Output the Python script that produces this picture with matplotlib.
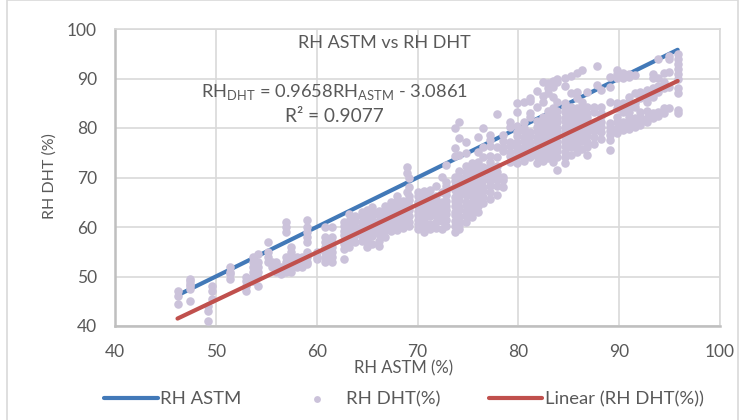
import matplotlib
matplotlib.use("Agg")
import matplotlib.pyplot as plt
from matplotlib.patches import Rectangle

plt.rcParams['font.family'] = ['Lato', 'DejaVu Sans']
plt.rcParams['mathtext.fontset'] = 'custom'
plt.rcParams['mathtext.rm'] = 'Lato'

# RH ASTM reading -> the RH DHT readings at that reading
astm_46 = [(46.2, [44.5, 46, 47]), (47.4, [45, 47.5, 48, 48.5, 49, 49.5]), (49.2, [41, 43, 44]),
           (49.6, [45.5, 47, 48]), (51.4, [49.5, 50.5, 51, 52]), (53.0, [47, 48, 49, 50]),
           (53.7, [49, 50, 51, 52, 53, 54]), (54.2, [48, 50, 51, 52, 53, 54.5]),
           (55.2, [53, 54, 55, 57]), (55.6, [52, 53]), (56.0, [51, 52, 53]), (56.5, [50.5, 51.5, 52]),
           (57.0, [51, 52, 53, 54, 59, 60, 61]), (57.5, [51, 52, 53, 54, 55, 56]), (58.0, [52, 53, 54]),
           (58.5, [52, 53, 54]), (59.0, [52.5, 53, 54, 55, 57, 58, 59, 60, 61.5]), (60.0, [53.5, 54, 55]),
           (60.8, [53, 54, 55, 56, 57, 58, 60]), (61.5, [53, 54, 55, 56, 57, 58, 60])]
astm_62 = [(62.7, [53.5, 55.5, 56.5, 57.2, 58.4, 59.1, 60.3, 61]), (63.2, [56, 57.4, 58.2, 59.3, 60.5, 61.2, 62.6]),
           (63.8, [57, 58.3, 59.4, 60.1, 61.3, 62.2]), (64.5, [57.2, 58.1, 59.5, 60.4, 61.1, 62.3, 63]),
           (65.0, [56, 57.3, 58.4, 59.2, 60.6, 61.4, 62.1, 63.4]), (65.5, [56.6, 58.2, 59.1, 60.2, 61.5, 62.4, 63.2, 64]),
           (66.2, [56.2, 57.1, 58.5, 59.4, 60.3, 61.2, 62.5, 63.3]), (66.8, [58, 59.3, 60.2, 61.4, 62.1, 63.2, 64.2]),
           (67.4, [59.2, 60.4, 61.1, 62.3, 63.1, 64.4, 65]), (68.0, [59.4, 60.3, 61.5, 62.2, 63.4, 64.1, 65.2, 66.2]),
           (68.6, [59.8, 61.2, 62.4, 63.3, 64.5, 65.3]), (69.2, [60.2, 61.1, 62.3, 63.5, 64.2, 65.4, 66.3, 68, 70]),
           (69.0, [67, 71, 72.2]), (70.0, [59.6, 60.6, 61.4, 62.5, 63.2, 64.3, 65.1, 66.2, 67])]
astm_70 = [(70.6, [59, 60.2, 61.5, 62.2, 63.4, 64.1, 65.3, 66.4, 67.2]), (71.2, [59.5, 60.7, 62.2, 63.1, 64.4, 65.2, 66.1, 67.4]),
           (71.8, [59.8, 61.1, 62.4, 63.2, 64.3, 65.5, 66.2, 68.2]), (72.4, [59.5, 61.2, 62.1, 63.3, 64.5, 65.1, 67, 70.2]),
           (72.8, [60.2, 61.4, 62.6, 63.5, 64.2, 65.3, 66.4, 67.2, 68.3, 69.1, 72.5]), (73.7, [59, 60.3, 61.2, 62.4, 63.1, 64.3, 65.2, 66.1, 67.4, 68.2, 69.3, 70.1, 74.4, 76, 80]),
           (74.1, [59.5, 60.4, 61.3, 62.2, 63.4, 64.1, 65.4, 66.3, 67.2, 68.1, 69.4, 70.2, 71.3, 74.5, 78, 81.2]),
           (74.8, [61, 62.3, 63.2, 64.4, 65.1, 66.4, 67.3, 68.2, 69.1, 70.3, 71.2, 72.4, 75, 77.2]),
           (75.4, [62, 63.3, 64.2, 65.1, 66.3, 67.2, 68.4, 69.3, 70.1, 71.4, 72.2, 73]),
           (76.0, [63, 64.3, 65.2, 66.1, 67.4, 68.3, 69.2, 70.4, 71.1, 72.3, 73.2, 75.2, 78.2]),
           (76.5, [64.8, 66, 67.2, 68.1, 69.4, 70.2, 71.3, 72.1, 74.2, 76.1, 80]),
           (77.2, [65.6, 67.1, 68.3, 69.2, 70.4, 71.2, 72.3, 73.1, 74.4, 76.3, 77.5, 78.5]),
           (77.9, [66.5, 68.2, 69.4, 70.3, 71.1, 72.4, 74.2, 76.2, 82.8]), (78.5, [68, 69.5, 70.2, 75.3, 76.2, 77.4, 78.6])]
astm_79 = [(79.2, [73.2, 74.4, 75.1, 76.3, 77.2, 80.2, 81.3]), (79.9, [73, 74.2, 75.3, 76.4, 77.1, 78.3, 79.2, 80.4, 83.2, 85]),
           (80.6, [73.3, 74.1, 75.4, 76.2, 77.3, 78.2, 79.4, 80.1, 81.2, 85.2]), (81.2, [74.2, 75.1, 76.4, 77.2, 78.3, 79.1, 82.3, 83.1, 85.4, 86]),
           (81.9, [73, 74.3, 75.2, 76.1, 77.4, 78.2, 79.3, 80.2, 81.4, 84.3, 87.5]), (82.4, [73.4, 74.1, 75.3, 76.2, 77.1, 78.4, 79.2, 80.3, 81.1, 82.2, 85.2, 86.4, 89.3]),
           (82.9, [74, 75.2, 76.3, 77.2, 78.1, 79.4, 80.2, 81.3, 82.1, 83.4, 87, 88, 89]),
           (83.4, [73.2, 74.4, 75.1, 76.4, 77.3, 78.2, 79.1, 80.4, 81.2, 82.3, 83.2, 84.1, 86.2, 88.3, 89.5]),
           (83.8, [71.5, 74.1, 75.3, 76.2, 77.1, 78.3, 79.4, 80.1, 81.3, 82.2, 83.4, 85.2, 89.2, 90]),
           (84.6, [73, 74.2, 75.1, 76.3, 77.4, 78.2, 79.1, 80.3, 81.4, 82.1, 83.3, 84.2, 85.1, 88.5, 90.2]),
           (85.2, [74.6, 76.1, 77.2, 78.4, 79.3, 80.1, 81.2, 82.4, 83.1, 84.3, 87.1, 90.6]),
           (85.8, [75.2, 76.3, 77.1, 78.2, 79.4, 80.3, 81.1, 82.2, 83.4, 84.1, 86, 87.3, 91.2]),
           (86.3, [75.8, 77.3, 78.1, 79.2, 80.4, 81.3, 82.1, 83.2, 84.4, 85.3, 91.7]),
           (86.8, [74.5, 76.1, 77.2, 78.3, 79.1, 80.2, 81.4, 82.3, 83.1, 84.2, 87.2]),
           (87.5, [76.8, 78.1, 79.3, 80.2, 81.1, 83.2, 84.3])]
astm_88 = [(87.8, [88.7, 92.5]), (88.2, [77.8, 79.1, 80.3, 81.2, 82.4, 83.1, 84.2, 87.7]), (89.1, [75.6, 77.5, 78.6, 79.4, 80.2, 81.1, 85.2, 88.2, 90.3]),
           (89.8, [79, 80.1, 81.3, 82.2, 84.1, 85, 90.2, 91, 91.7]), (90.4, [79.6, 80.4, 81.2, 83.3, 84.2, 85.1, 90.1, 91.2]),
           (91.0, [79.8, 81.1, 82.3, 83.2, 84.4, 85.3, 86.2, 90.4, 91]), (91.6, [80.3, 81.2, 82.1, 84.2, 85.1, 87, 90.7]),
           (92.1, [80.6, 81.4, 82.2, 83.3, 86.1, 87.3]), (92.8, [81.3, 82.1, 83.4, 85.2, 86.4, 87.6]),
           (93.4, [82, 83, 86.3, 88, 90.2, 91]), (93.9, [82.4, 83.2, 87.2, 88.4, 90.1, 94]),
           (94.4, [83, 84.1, 88.1, 89.2, 91.1]), (94.9, [84, 88.2, 91.3, 94, 94.6]),
           (95.8, [83, 83.7, 87, 88, 90, 91, 92, 93, 94, 95])]

line_x = [46.2, 95.8]
line_y = [46.2, 95.8]
trend_x = [46.2, 95.8]
trend_y = [41.5, 89.5]

x_ticks = [40, 50, 60, 70, 80, 90, 100]
y_ticks = [40, 50, 60, 70, 80, 90, 100]

rh_astm = []
rh_dht = []
for group in (astm_46, astm_62, astm_70, astm_79, astm_88):
    for astm, readings in group:
        for dht in readings:
            rh_astm.append(astm)
            rh_dht.append(dht)

TEXT = '#595959'

fig = plt.figure(figsize=(7.46, 4.2), dpi=100)
ax = fig.add_axes([115/746, 1-326/420, 605/746, 297/420])
fig.add_artist(Rectangle((7/746, -0.02), 731/746, 1.02, transform=fig.transFigure,
                         fill=False, edgecolor='#d9d9d9', linewidth=1.2))

ax.plot(line_x, line_y, color='#4279b8', linewidth=3, label='RH ASTM', zorder=3, solid_capstyle='round')
ax.scatter(rh_astm, rh_dht, s=38, color='#cbc2da', label='RH DHT(%)', zorder=4, linewidths=0)
ax.plot(trend_x, trend_y, color='#c0504d', linewidth=3, label='Linear (RH DHT(%))', zorder=5, solid_capstyle='round')

ax.set_xlim(40, 100)
ax.set_ylim(40, 100)
ax.set_xticks(x_ticks)
ax.set_yticks(y_ticks)
ax.grid(color='#d9d9d9', linewidth=1.2, zorder=0)
ax.set_axisbelow(True)
ax.tick_params(axis='x', length=0, labelsize=12.5, labelcolor=TEXT, pad=13)
ax.tick_params(axis='y', length=0, labelsize=12.5, labelcolor=TEXT, pad=13)
for side in ['top', 'right']:
    ax.spines[side].set_color('#d9d9d9')
    ax.spines[side].set_linewidth(1.2)
for side in ['left', 'bottom']:
    ax.spines[side].set_color('#bfbfbf')
    ax.spines[side].set_linewidth(1.8)

fig.text(404/746, 1-368/420, 'RH ASTM (%)', fontsize=12, color=TEXT, ha='center', va='center')
fig.text(50/746, 1-176/420, 'RH DHT (%)', fontsize=11.5, color=TEXT, ha='center', va='center', rotation=90)

fig.text(384/746, 1-43/420, 'RH ASTM vs RH DHT', fontsize=13, color=TEXT, ha='center', va='center')
fig.text(334/746, 1-92/420, r'RH$_{\mathrm{DHT}}$ = 0.9658RH$_{\mathrm{ASTM}}$ - 3.0861', fontsize=13.2, color=TEXT, ha='center', va='center')
fig.text(334/746, 1-117/420, 'R² = 0.9077', fontsize=13.7, color=TEXT, ha='center', va='center')

handles, labels = ax.get_legend_handles_labels()
leg = fig.legend(handles, labels, ncol=3, loc='center', bbox_to_anchor=(404/746, 1-399/420), frameon=False,
                 fontsize=13.3, labelcolor=TEXT, handlelength=2.9, columnspacing=2.6, handletextpad=0.15,
                 markerscale=0.8)

fig.savefig('out.png', dpi=100)
